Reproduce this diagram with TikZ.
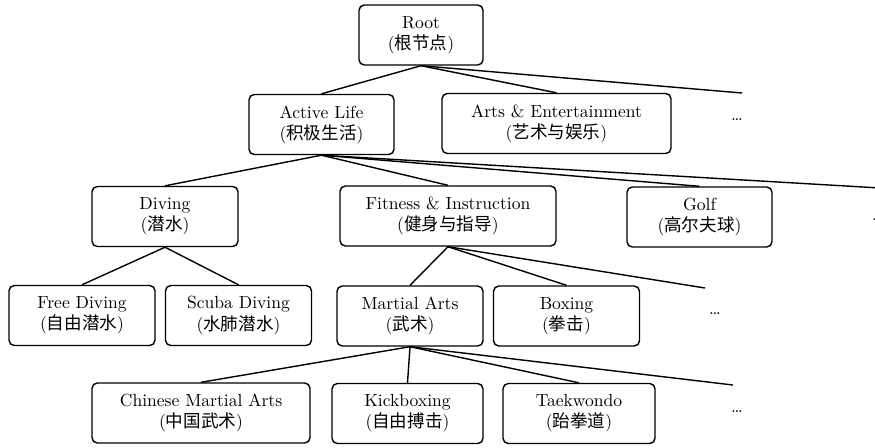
\documentclass[tikz,border=0pt]{standalone}
\usepackage{fontspec}
\usepackage{tikz}
\newfontfamily\cjk{Noto Sans CJK SC}
\newcommand{\zh}[1]{({\cjk #1})}

\begin{document}
\begin{tikzpicture}[
    cat/.style={draw, line width=0.8pt, rounded corners=3pt, align=center,
                minimum height=1.2cm, inner sep=2pt},
    every path/.style={line width=0.8pt}
  ]
    \useasboundingbox (0,0) rectangle (17.5,-8.94);
    \node[cat, minimum width=2.48cm] (1)  at (8.42,-0.70)  {Root\\\zh{根节点}};
    \node[cat, minimum width=2.90cm] (2)  at (6.43,-2.49)  {Active Life\\\zh{积极生活}};
    \node[cat, minimum width=4.58cm] (3)  at (11.13,-2.47) {Arts \& Entertainment\\\zh{艺术与娱乐}};
    \node[cat, minimum width=2.92cm] (4)  at (3.30,-4.33)  {Diving\\\zh{潜水}};
    \node[cat, minimum width=4.32cm] (5)  at (8.96,-4.32)  {Fitness \& Instruction\\\zh{健身与指导}};
    \node[cat, minimum width=2.90cm] (6)  at (13.99,-4.34) {Golf\\\zh{高尔夫球}};
    \node[cat, minimum width=2.92cm] (7)  at (1.64,-6.31)  {Free Diving\\\zh{自由潜水}};
    \node[cat, minimum width=2.92cm] (8)  at (4.77,-6.31)  {Scuba Diving\\\zh{水肺潜水}};
    \node[cat, minimum width=2.92cm] (9)  at (8.20,-6.32)  {Martial Arts\\\zh{武术}};
    \node[cat, minimum width=2.92cm] (10) at (11.33,-6.32) {Boxing\\\zh{拳击}};
    \node[cat, minimum width=4.36cm] (11) at (4.02,-8.26)  {Chinese Martial Arts\\\zh{中国武术}};
    \node[cat, minimum width=3.02cm] (12) at (8.15,-8.27)  {Kickboxing\\\zh{自由搏击}};
    \node[cat, minimum width=3.04cm] (13) at (11.58,-8.27) {Taekwondo\\\zh{跆拳道}};
    \node (d1) at (14.74,-2.40) {\dots};
    \node (d2) at (17.56,-4.40) {\dots};
    \node (d3) at (14.30,-6.28) {\dots};
    \node (d4) at (14.74,-8.24) {\dots};
    \coordinate (e1) at (14.84,-1.86);
    \coordinate (e2) at (17.60,-3.76);
    \coordinate (e3) at (14.10,-5.76);
    \coordinate (e4) at (14.66,-7.70);
    \path
        (1.south)
            edge (2.north)
            edge (3.north)
            edge (e1)
        (2.south)
            edge (4.north)
            edge (5.north)
            edge (6.north)
            edge (e2)
        (4.south)
            edge (7.north)
            edge (8.north)
        (5.south)
            edge (9.north)
            edge (10.north)
            edge (e3)
        (9.south)
            edge (11.north)
            edge (12.north)
            edge (13.north)
            edge (e4)
        ;
\end{tikzpicture}
\end{document}
